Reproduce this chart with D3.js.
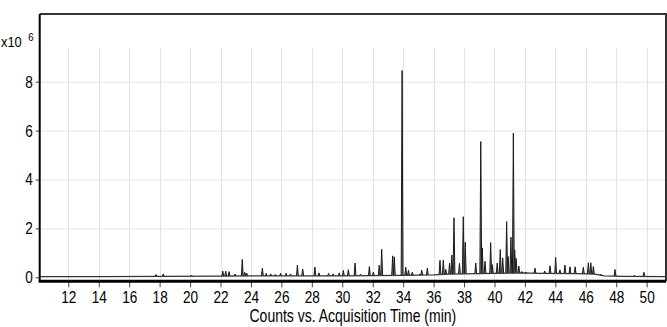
<!DOCTYPE html>
<html>
<head>
<meta charset="utf-8">
<script src="https://cdn.jsdelivr.net/npm/d3@7"></script>
<style>
  body { margin: 0; background: #fff; }
  svg { display: block; }
  text { font-family: "Liberation Sans", Arial, sans-serif; fill: #000; }
</style>
</head>
<body>
<script>
// page size
let width = 667, height = 327

// x / y ticks
let xTicks = [12, 14, 16, 18, 20, 22, 24, 26, 28, 30, 32, 34, 36, 38, 40, 42, 44, 46, 48, 50]
let yTicks = [0, 2, 4, 6, 8]

// slowly drifting baseline of the trace (x10^6 counts)
let baseTimes  = [10.12, 14, 18, 22, 26, 30, 34, 36, 37, 38, 40, 41.7, 43, 45.4, 46.6, 47.2, 48.5, 51.27]
let baseValues = [0.03, 0.03, 0.04, 0.05, 0.06, 0.06, 0.08, 0.1, 0.13, 0.14, 0.16, 0.18, 0.16, 0.15, 0.13, 0.06, 0.04, 0.03]

// peaks: retention time (min) and height above baseline (x10^6)
let peakTimes = [
  17.76, 18.24, 20.1,
  22.15, 22.34, 22.56, 22.95, 23.43, 23.59, 23.72,
  24.75, 25.0, 25.3, 25.6, 25.95, 26.3, 26.6,
  27.05, 27.4, 28.2, 28.47, 29.1, 29.4, 29.8,
  30.07, 30.4, 30.84, 31.2, 31.78, 32.04, 32.43, 32.59,
  33.31, 33.42, 33.93, 34.17, 34.35, 34.6, 35.1, 35.22, 35.59,
  36.42, 36.64, 36.8, 37.05, 37.2, 37.34, 37.7, 37.95, 38.08,
  38.77, 39.1, 39.2, 39.38, 39.75, 39.86, 40.18, 40.38, 40.54,
  40.8, 40.9, 41.08, 41.24, 41.33, 41.42, 41.6, 41.8,
  42.07, 42.66, 43.3, 43.65, 44.02, 44.3, 44.63, 44.96, 45.3,
  45.84, 46.17, 46.33, 46.5, 47.0, 47.92, 49.2, 49.82
]
let peakHeights = [
  0.07, 0.1, 0.04,
  0.2, 0.2, 0.18, 0.08, 0.68, 0.15, 0.12,
  0.32, 0.1, 0.08, 0.06, 0.1, 0.1, 0.08,
  0.43, 0.28, 0.36, 0.12, 0.1, 0.08, 0.12,
  0.22, 0.25, 0.52, 0.06, 0.37, 0.14, 0.43, 1.07,
  0.8, 0.76, 8.38, 0.33, 0.2, 0.12, 0.04, 0.2, 0.28,
  0.58, 0.58, 0.2, 0.45, 0.78, 2.3, 0.43, 2.34, 1.29,
  0.44, 5.4, 1.05, 0.5, 1.26, 0.36, 0.42, 0.97, 0.63,
  2.11, 0.68, 1.47, 5.72, 0.95, 0.6, 0.28, 0.06,
  0.03, 0.21, 0.1, 0.31, 0.66, 0.15, 0.35, 0.28, 0.28,
  0.27, 0.46, 0.46, 0.31, 0.04, 0.27, 0.05, 0.17
]

// half width of a peak at its foot, in minutes
let halfWidth = 0.06
// the labels in the picture are set in a narrow face
let squeeze = 0.8

let x = d3.scaleLinear().domain([10.12, 51.27]).range([39.7, 666])
let y = d3.scaleLinear().domain([-0.164, 10.77]).range([281.3, 14])
// baseline as a function of time
let base = d3.scaleLinear().domain(baseTimes).range(baseValues)

let svg = d3.select("body").append("svg")
  .attr("width", width)
  .attr("height", height)

// grid
svg.append("g")
  .selectAll("line")
  .data(yTicks.slice(1))
  .join("line")
  .attr("x1", x.range()[0]).attr("x2", x.range()[1])
  .attr("y1", d => y(d) + 0.5).attr("y2", d => y(d) + 0.5)
  .attr("stroke", "#e4e4e4")

svg.append("g")
  .selectAll("line")
  .data(xTicks)
  .join("line")
  .attr("x1", d => Math.round(x(d)) + 0.5).attr("x2", d => Math.round(x(d)) + 0.5)
  .attr("y1", y(9.38)).attr("y2", y.range()[0])
  .attr("stroke", "#e4e4e4")

// frame top and right
svg.append("path")
  .attr("d", `M${x.range()[0]},${y.range()[1]}H${x.range()[1]}V${y.range()[0]}`)
  .attr("fill", "none")
  .attr("stroke", "#333")
  .attr("stroke-width", 2)

// trace baseline
let line = d3.line().x(d => x(d[0])).y(d => y(d[1]))
svg.append("path")
  .attr("d", line(baseTimes.map((t, i) => [t, baseValues[i]])))
  .attr("fill", "none")
  .attr("stroke", "#333")
  .attr("stroke-width", 1.2)

// peaks
svg.append("g")
  .selectAll("path")
  .data(peakTimes.map((t, i) => ({ t: t, h: peakHeights[i] })))
  .join("path")
  .attr("d", d => line([
    [d.t - halfWidth, base(d.t - halfWidth)],
    [d.t, base(d.t) + d.h],
    [d.t + halfWidth, base(d.t + halfWidth)]
  ]))
  .attr("fill", "#777")
  .attr("stroke", "#1a1a1a")
  .attr("stroke-width", 1)
  .attr("stroke-linejoin", "round")

// x axis
let xAxis = svg.append("g")
  .attr("transform", `translate(0,${y.range()[0]})`)
  .call(d3.axisBottom(x).tickValues(xTicks).tickSize(6).tickPadding(4))
xAxis.select(".domain").remove()
xAxis.selectAll(".tick line").attr("stroke", "#444")
xAxis.selectAll("text")
  .attr("font-size", 17)
  .attr("fill", "#000")
  .attr("transform", `scale(${squeeze},1)`)

// y axis
let yAxis = svg.append("g")
  .attr("transform", `translate(${x.range()[0]},0)`)
  .call(d3.axisLeft(y).tickValues(yTicks).tickSize(4).tickPadding(3))
yAxis.select(".domain").remove()
yAxis.selectAll(".tick line").attr("stroke", "#444")
yAxis.selectAll("text")
  .attr("font-size", 17)
  .attr("fill", "#000")
  .attr("x", -7 / squeeze)
  .attr("transform", `scale(${squeeze},1)`)

// axis lines
svg.append("line")
  .attr("x1", x.range()[0]).attr("x2", x.range()[0])
  .attr("y1", y.range()[1]).attr("y2", y.range()[0])
  .attr("stroke", "#000").attr("stroke-width", 2)
svg.append("line")
  .attr("x1", x.range()[0] - 1).attr("x2", x.range()[1])
  .attr("y1", y.range()[0]).attr("y2", y.range()[0])
  .attr("stroke", "#000").attr("stroke-width", 3)

// titles
svg.append("g")
  .attr("transform", `translate(${(x.range()[0] + x.range()[1]) / 2},322) scale(${squeeze},1)`)
  .append("text")
  .attr("text-anchor", "middle")
  .attr("font-size", 17.5)
  .text("Counts vs. Acquisition Time (min)")

let unit = svg.append("g")
  .attr("transform", "translate(1,46.7) scale(0.92,1)")
unit.append("text")
  .attr("font-size", 14)
  .text("x10")
unit.append("text")
  .attr("x", 29.5)
  .attr("y", -6)
  .attr("font-size", 10.5)
  .text("6")
</script>
</body>
</html>
